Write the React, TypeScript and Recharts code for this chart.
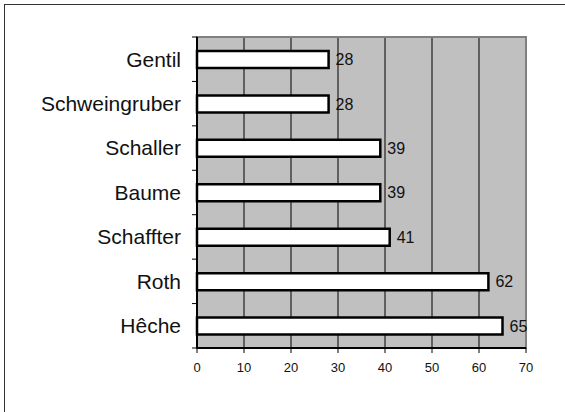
import React from 'react'
import {
  BarChart,
  Bar,
  XAxis,
  YAxis,
  CartesianGrid,
  ReferenceArea,
  LabelList
} from 'recharts'

const names = ['Gentil', 'Schweingruber', 'Schaller', 'Baume', 'Schaffter', 'Roth', 'Hêche']
const votes = [28, 28, 39, 39, 41, 62, 65]
const xTicks = [0, 10, 20, 30, 40, 50, 60, 70]

const data = names.map((name, i) => ({ name, value: votes[i] }))

const W = 565
const H = 412
const margin = { top: 37, right: 39, left: 0, bottom: 34 }
const xAxisHeight = 30
const yAxisWidth = 197
const band = (H - margin.top - margin.bottom - xAxisHeight) / names.length
const font = '"Liberation Sans", Arial, sans-serif'

// label in the middle of the band, tick mark on the band boundary
const CategoryTick = ({ y, payload, index }: any) => {
  const axisX = yAxisWidth
  return (
    <g>
      <line x1={axisX - 5} x2={axisX} y1={y - band / 2} y2={y - band / 2} stroke="#000" />
      {index === names.length - 1 && (
        <line x1={axisX - 5} x2={axisX} y1={y + band / 2} y2={y + band / 2} stroke="#000" />
      )}
      <text
        x={axisX - 16}
        y={y}
        dy="0.35em"
        textAnchor="end"
        fontSize={21}
        fill="#111"
        fontFamily={font}
      >
        {payload.value}
      </text>
    </g>
  )
}

export default function App() {
  return (
    <div style={{ position: 'absolute', left: 0, top: 0, width: W, height: H, overflow: 'hidden', background: '#fff' }}>
      <div
        style={{
          position: 'absolute',
          left: 4,
          top: 4,
          width: W + 40,
          height: H + 40,
          border: '1.5px solid #333'
        }}
      />
      <div style={{ position: 'absolute', left: 0, top: 0 }}>
        <BarChart width={W} height={H} data={data} layout="vertical" margin={margin} barCategoryGap="30%">
          <CartesianGrid horizontal={false} stroke="#000" fill="#c0c0c0" fillOpacity={1} />
          <ReferenceArea x1={0} x2={70} fill="none" stroke="#808080" strokeWidth={2} />
          <XAxis
            type="number"
            domain={[0, 70]}
            ticks={xTicks}
            height={xAxisHeight}
            axisLine={{ stroke: '#000', strokeWidth: 2 }}
            tickLine={{ stroke: '#000' }}
            tickSize={5}
            tickMargin={10}
            tick={{ fontSize: 13, fill: '#111', fontFamily: font }}
          />
          <YAxis
            type="category"
            dataKey="name"
            width={yAxisWidth}
            axisLine={{ stroke: '#000', strokeWidth: 2 }}
            tickLine={false}
            tick={<CategoryTick />}
          />
          <Bar dataKey="value" fill="#fff" stroke="#000" strokeWidth={2.5} barSize={17} isAnimationActive={false}>
            <LabelList dataKey="value" position="right" offset={7} fontSize={16} fill="#111" fontFamily={font} />
          </Bar>
        </BarChart>
      </div>
    </div>
  )
}
